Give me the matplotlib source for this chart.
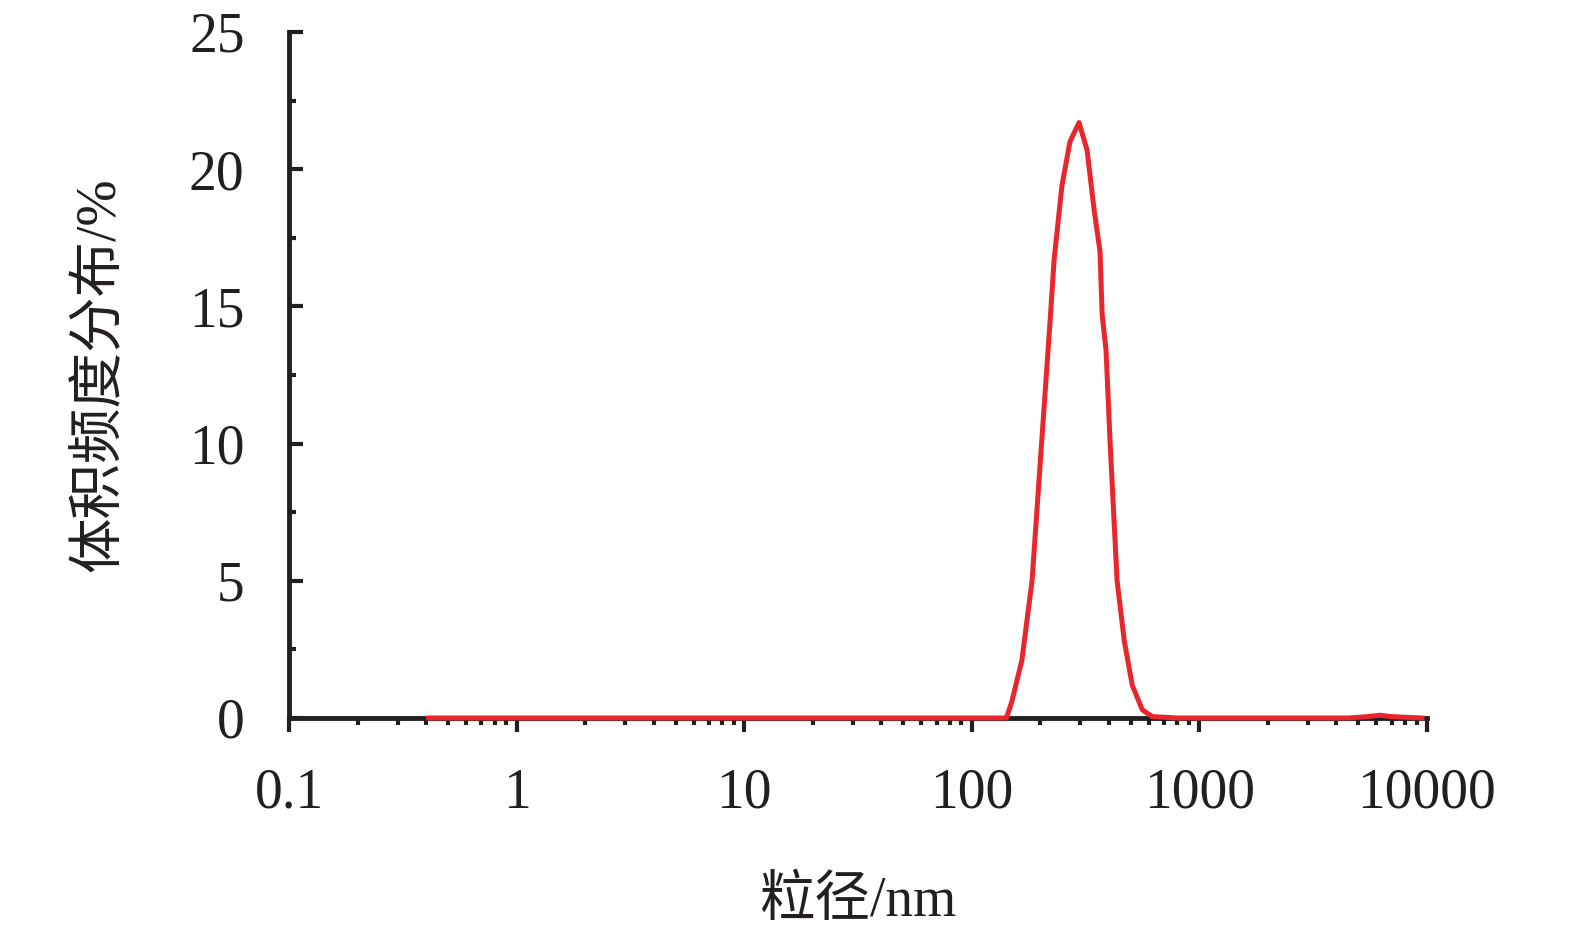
import matplotlib
matplotlib.use("Agg")
import matplotlib.pyplot as plt
from matplotlib.ticker import LogLocator, NullFormatter, FixedLocator

plt.rcParams['font.family'] = ['Liberation Serif', 'Noto Sans CJK SC']

# particle size (nm) and volume frequency (%)
size_nm = [0.41, 1, 3, 10, 30, 60, 100, 130, 142, 150, 166, 184, 203, 221,
           230, 249, 270, 296, 321, 345, 366, 374, 389, 405, 435, 468, 507,
           561, 621, 800, 2000, 4500, 5500, 6200, 7000, 9500]
volume_pct = [0.0, 0.0, 0.0, 0.0, 0.0, 0.0, 0.0, 0.0, 0.0, 0.6, 2.1, 5.0,
              10.1, 14.5, 16.7, 19.4, 21.0, 21.7, 20.7, 18.5, 17.0, 14.7,
              13.4, 10.1, 5.0, 2.8, 1.2, 0.3, 0.05, 0.0, 0.0, 0.0, 0.05,
              0.1, 0.05, 0.0]

x_ticks = [0.1, 1, 10, 100, 1000, 10000]
x_tick_labels = ['0.1', '1', '10', '100', '1000', '10000']
y_ticks = [0, 5, 10, 15, 20, 25]

dark = '#231f20'

fig = plt.figure(figsize=(15.75, 9.41), dpi=100)
ax = fig.add_axes([0.1835, 0.237, 0.7225, 0.729])
ax.plot(size_nm, volume_pct, color='#e8262b', lw=3.6, zorder=5,
        clip_on=False, solid_joinstyle='round')

ax.set_xscale('log')
ax.set_xlim(0.1, 10000)
ax.set_ylim(0, 25)
ax.xaxis.set_major_locator(FixedLocator(x_ticks))
ax.set_xticklabels(x_tick_labels)
ax.xaxis.set_minor_locator(LogLocator(base=10, subs=range(2, 10)))
ax.xaxis.set_minor_formatter(NullFormatter())
ax.set_yticks(y_ticks)
ax.set_yticks([2.5, 7.5, 12.5, 17.5, 22.5], minor=True)

for s in ['top', 'right']:
    ax.spines[s].set_visible(False)
for s in ['left', 'bottom']:
    ax.spines[s].set_linewidth(3.5)
    ax.spines[s].set_color(dark)

ax.tick_params(axis='x', which='major', direction='out', length=10, width=3,
               color=dark, labelsize=40, pad=26, labelcolor=dark)
ax.tick_params(axis='x', which='minor', direction='out', length=5, width=3, color=dark)
ax.tick_params(axis='y', which='major', direction='in', length=10, width=3,
               color=dark, labelsize=40, pad=32, labelcolor=dark)
ax.tick_params(axis='y', which='minor', direction='in', length=5, width=3, color=dark)

ax.set_xlabel('粒径/nm', fontsize=40, color=dark, labelpad=40)
ax.set_ylabel('体积频度分布/%', fontsize=40, color=dark, labelpad=45)

fig.savefig('out.png', dpi=100)
